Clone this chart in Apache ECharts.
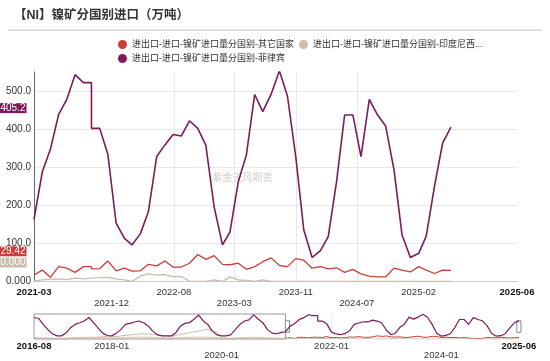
<!DOCTYPE html>
<html><head><meta charset="utf-8">
<script src="https://cdn.jsdelivr.net/npm/echarts@6/dist/echarts.min.js"></script>
<style>html,body{margin:0;padding:0;background:#fff}#c{width:550px;height:361px}</style>
</head><body><div id="c"></div>
<script>
// ---------- data ----------
const titleText = '【NI】镍矿分国别进口（万吨）';
const watermarkText = '紫金天风期货';
const seriesNames = [
  '进出口-进口-镍矿进口量分国别-其它国家',
  '进出口-进口-镍矿进口量分国别-印度尼西亚',
  '进出口-进口-镍矿进口量分国别-菲律宾'
];
const historyStart = '2016-08';
const viewStart = '2021-03';
const lastMonth = '2025-06';
const repeatedMonth = '2021-10'; // two values are reported for this month

// 2016-08 .. 2021-02 (navigator only)
const philippinesHistory = [482,460,327,210,117,
  70,70,132,250,327,365,404,482,365,250,132,78,
  70,132,210,327,350,381,404,365,288,171,93,70,
  70,70,132,288,350,365,443,537,404,327,171,93,
  70,70,93,210,327,404,428,540,443,365,210,132,
  117,148];
const othersHistory = [30,28,25,22,20,
  18,15,20,25,30,32,35,38,35,30,28,25,
  22,20,25,30,35,38,40,42,38,35,30,28,
  25,22,25,30,35,38,40,42,40,38,35,30,
  25,20,18,22,28,32,35,38,35,30,25,22,
  20,18];
const indonesiaHistory = [0,0,0,0,0,
  0,0,0,5,10,15,20,25,30,40,50,60,
  60,50,70,80,90,100,110,120,110,100,90,80,
  70,60,80,100,120,140,160,180,200,220,180,150,
  10,0,0,0,0,0,0,0,0,0,0,0,
  0,0];
// 2021-03 .. 2025-06 (2021-10 appears twice)
const philippines = [163,288,347,439,478,543,522,522,402,402,334,
  153,113,96,125,183,328,358,386,382,422,402,358,
  196,96,130,262,332,491,446,491,553,487,328,135,
  63,81,118,262,437,437,328,478,437,408,293,122,
  63,74,119,251,363,405.2];
const others = [17,30,11,39,35,24,39,39,33,34,54,
  28,35,27,28,45,41,54,38,38,48,71,58,
  68,45,44,48,32,39,52,62,42,39,60,56,
  35,39,33,36,24,32,20,14,12,12,35,30,
  25,39,30,21,30,29.42];
const indonesia = [1,4,6,7,5,9,7,9,10,10,11,
  7,4,0,14,20,17,18,13,13,1,0,0,
  4,0,12,4,3,0,4,0,0,0,0,0,
  0,0,0,0,0,0,0,0,0,0,0,0,
  0,0,0,0,0,0];

// x tick labels of the main chart and of the navigator
const mainTickDates = ['2021-03-01','2021-12-15','2022-08-04','2023-03-17','2023-11-01','2024-06-16','2025-02-01','2025-06-01'];
const mainTickLabels = ['2021-03','2021-12','2022-08','2023-03','2023-11','2024-07','2025-02','2025-06'];
const navTickDates = ['2016-08-01','2018-01-01','2020-01-01','2022-01-01','2024-01-01','2025-05-31'];
const navTickLabels = ['2016-08','2018-01','2020-01','2022-01','2024-01','2025-06'];

// ---------- layout ----------
const mainLabelRow = [0, 1, 0, 1, 0, 1, 0, 0];
const navLabelRow = [0, 0, 1, 0, 1, 0];
const G = { left: 34, right: 33, top: 72, bottom: 79.5 };
const N = { left: 34, right: 31, top: 314, height: 25 };
const FONT = "'Liberation Sans','Noto Sans CJK SC',sans-serif";
const XF = 9.5;

// ---------- build ----------
function monthRange(a, b) {
  const out = [];
  let [y, m] = a.split('-').map(Number);
  const [y2, m2] = b.split('-').map(Number);
  while (y < y2 || (y === y2 && m <= m2)) {
    out.push(y + '-' + String(m).padStart(2, '0'));
    m++; if (m > 12) { m = 1; y++; }
  }
  return out;
}
const dates = monthRange(historyStart, lastMonth);
dates.splice(dates.indexOf(repeatedMonth) + 1, 0, repeatedMonth);

const values = [
  othersHistory.concat(others),
  indonesiaHistory.concat(indonesia),
  philippinesHistory.concat(philippines)
];
const colors = ['#cc3d35', '#cbbdab', '#7d1a5c'];
const t = s => +echarts.time.parse(s);
const fmt4 = v => (+v === 0 ? '0.000' : Number(v).toPrecision(4));

const mainTimes = mainTickDates.map(t);
const navTimes = navTickDates.map(t);

function pairs(i) { return dates.map((d, k) => [t(d), values[i][k]]); }

const series = [];
seriesNames.forEach((name, i) => {
  const last = values[i][values[i].length - 1];
  series.push({
    name, type: 'line', xAxisIndex: 0, yAxisIndex: 0,
    data: pairs(i), showSymbol: false, symbol: 'none',
    lineStyle: { width: i === 2 ? 1.6 : 1.3, color: colors[i] },
    itemStyle: { color: colors[i] },
    z: 2 + i,
    markPoint: {
      symbol: 'rect', symbolSize: 1, silent: true,
      itemStyle: { color: 'rgba(0,0,0,0)' },
      data: [{ coord: [t(viewStart), last], value: last }],
      label: {
        show: true, position: 'left', distance: 7, offset: [0, -19],
        formatter: p => fmt4(p.value), color: '#fff', fontSize: 10,
        lineHeight: 10, padding: [0, 1], backgroundColor: colors[i], fontFamily: FONT
      }
    }
  });
});
seriesNames.forEach((name, i) => {
  series.push({
    name, type: 'line', xAxisIndex: 1, yAxisIndex: 1,
    data: pairs(i), showSymbol: false, symbol: 'none', silent: true,
    lineStyle: { width: i === 2 ? 1.2 : 1, color: colors[i] }, z: 2 + i
  });
});

function rowLabel(labels, times, rows) {
  return function (val) {
    const i = times.findIndex(x => Math.abs(x - val) < 43200000);
    if (i < 0) return '';
    const txt = labels[i];
    if (i === 0 || i === labels.length - 1) return '{b|' + txt + '}';
    return rows[i] ? '{n|}\n{n|' + txt + '}' : '{n|' + txt + '}';
  };
}
const labelRich = lh => ({
  n: { fontSize: XF, color: '#333', lineHeight: lh },
  b: { fontSize: XF, color: '#111', fontWeight: 'bold', lineHeight: lh }
});

const option = {
  animation: false,
  backgroundColor: '#fff',
  textStyle: { fontFamily: FONT },
  title: {
    text: titleText, left: 14, top: 9, padding: 0,
    textStyle: { fontSize: 12.5, fontWeight: 'bold', color: '#333', fontFamily: FONT }
  },
  legend: {
    data: seriesNames, left: 113, top: 35, width: 400,
    icon: 'circle', itemWidth: 9, itemHeight: 9, itemGap: 5,
    formatter: n => (n.length > 20 ? n.slice(0, 20) + '...' : n),
    textStyle: { fontSize: 9, width: 180, color: '#333' }
  },
  grid: [
    { left: G.left, right: G.right, top: G.top, bottom: G.bottom },
    { left: N.left, right: N.right, top: N.top, height: N.height }
  ],
  xAxis: [
    { // main time axis (inner tick labels)
      type: 'value', gridIndex: 0, position: 'bottom', scale: true,
      axisLine: { show: true, onZero: false, lineStyle: { color: '#ccc' } },
      axisTick: { show: false, customValues: mainTimes.slice(1, -1) },
      axisLabel: {
        customValues: mainTimes.slice(1, -1), margin: 5, fontSize: XF, color: '#333', lineHeight: 11,
        hideOverlap: false,
        formatter: rowLabel(mainTickLabels, mainTimes, mainLabelRow), rich: labelRich(11)
      },
      splitLine: { show: true, showMinLine: false, showMaxLine: false, lineStyle: { color: '#e8e8e8' } }
    },
    { // navigator axis
      type: 'value', gridIndex: 1, position: 'bottom', min: t(historyStart), max: t(lastMonth),
      axisLine: { show: false }, axisTick: { show: false, customValues: navTimes.slice(1, -1) },
      axisLabel: {
        customValues: navTimes, margin: 3, fontSize: XF, color: '#333', lineHeight: 9,
        showMinLabel: true, showMaxLabel: true, hideOverlap: false,
        formatter: rowLabel(navTickLabels, navTimes, navLabelRow), rich: labelRich(9)
      },
      splitLine: { show: true, showMinLine: false, showMaxLine: false, lineStyle: { color: '#eeeeee' } }
    },
    { // first / last month labels of the main chart
      type: 'value', gridIndex: 0, position: 'bottom', offset: 0,
      min: t(viewStart), max: t(lastMonth),
      axisLine: { show: false, onZero: false }, axisTick: { show: false }, splitLine: { show: false },
      axisLabel: {
        customValues: [mainTimes[0], mainTimes[mainTimes.length - 1]], margin: 5,
        fontSize: XF, lineHeight: 11, showMinLabel: true, showMaxLabel: true,
        formatter: rowLabel(mainTickLabels, mainTimes, mainLabelRow), rich: labelRich(11)
      }
    }
  ],
  yAxis: [
    {
      type: 'value', gridIndex: 0, min: 0, max: 550, interval: 100,
      axisLine: { show: true, lineStyle: { color: '#666' } },
      axisTick: { show: false },
      axisLabel: { fontSize: 10, color: '#333', margin: 3, formatter: fmt4, showMaxLabel: false },
      splitLine: { show: true, showMaxLine: false, lineStyle: { color: '#e8e8e8' } }
    },
    { type: 'value', gridIndex: 1, min: 0, max: 560, show: false, splitLine: { show: false } }
  ],
  dataZoom: [{
    type: 'slider', xAxisIndex: 0,
    startValue: t(viewStart), endValue: t(lastMonth),
    left: N.left, right: N.right, top: N.top, height: N.height,
    showDataShadow: false, showDetail: false, brushSelect: false, moveHandleSize: 0,
    backgroundColor: 'rgba(0,0,0,0)', borderColor: 'rgba(0,0,0,0)', fillerColor: 'rgba(0,0,0,0)',
    handleIcon: 'path://M0,0h4v11h-4z', handleSize: '46%',
    handleStyle: { color: '#fff', borderColor: '#888', borderWidth: 1 },
    filterMode: 'filter'
  }],
  series
};

const chart = echarts.init(document.getElementById('c'), null, { renderer: 'canvas' });
chart.setOption(option);

// decorations derived from the laid-out axes
const x0 = chart.convertToPixel({ xAxisIndex: 1 }, t(historyStart));
const xs = chart.convertToPixel({ xAxisIndex: 1 }, t(viewStart));
const gx = (chart.convertToPixel({ xAxisIndex: 0 }, t(viewStart)) + chart.convertToPixel({ xAxisIndex: 0 }, t(lastMonth))) / 2;
const gy = (chart.convertToPixel({ yAxisIndex: 0 }, 0) + chart.convertToPixel({ yAxisIndex: 0 }, 550)) / 2;
chart.setOption({
  graphic: [
    { type: 'rect', id: 'hdr', silent: true, shape: { x: 8, y: 29.5, width: 534, height: 1.5 }, style: { fill: '#d6d6d6' } },
    { type: 'text', id: 'wm', silent: true, x: gx, y: gy, z: 0,
      style: { text: watermarkText, fill: '#d2d2d2', font: "10px 'Noto Sans CJK SC'", textAlign: 'center', textVerticalAlign: 'middle' } },
    { type: 'rect', id: 'navmask', silent: true, z: 3,
      shape: { x: x0, y: N.top, width: xs - x0, height: N.height },
      style: { fill: 'rgba(255,255,255,0.6)', stroke: '#999', lineWidth: 1 } }
  ]
});
</script>
</body></html>
